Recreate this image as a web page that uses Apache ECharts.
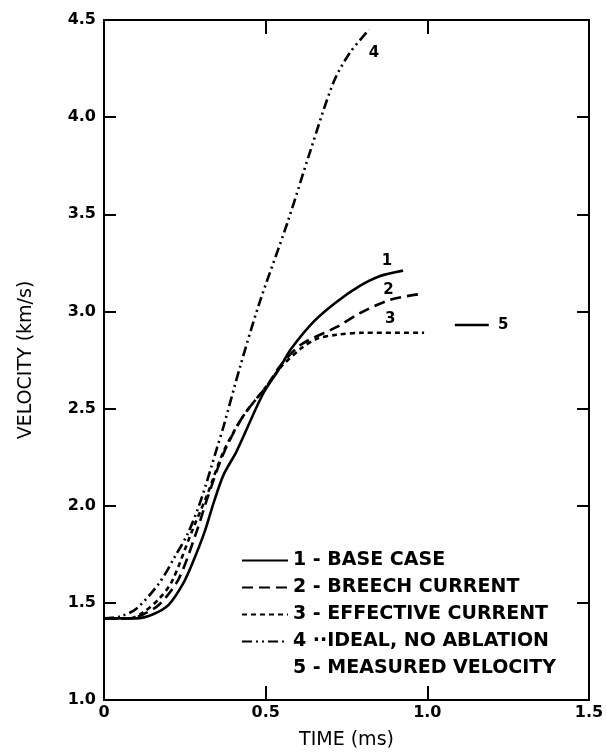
<!DOCTYPE html>
<html>
<head>
<meta charset="utf-8">
<script src="https://cdn.jsdelivr.net/npm/echarts@6/dist/echarts.min.js"></script>
<style>html,body{margin:0;padding:0;background:#fff}#c{width:607px;height:756px}</style>
</head>
<body>
<div id="c"></div>
<script>
// Curve 1 - base case
var t1 = [0, 0.05, 0.10, 0.15, 0.20, 0.245, 0.275, 0.31, 0.34, 0.37, 0.41, 0.49, 0.54, 0.58, 0.65, 0.72, 0.79, 0.85, 0.925];
var v1 = [1.42, 1.42, 1.42, 1.44, 1.49, 1.60, 1.71, 1.86, 2.02, 2.16, 2.28, 2.57, 2.70, 2.81, 2.95, 3.05, 3.13, 3.18, 3.21];
// Curve 2 - breech current
var t2 = [0, 0.08, 0.12, 0.17, 0.23, 0.285, 0.32, 0.37, 0.43, 0.505, 0.545, 0.61, 0.72, 0.79, 0.885, 0.98];
var v2 = [1.42, 1.42, 1.44, 1.49, 1.62, 1.86, 2.04, 2.27, 2.46, 2.62, 2.72, 2.83, 2.92, 2.99, 3.06, 3.09];
// Curve 3 - effective current
var t3 = [0, 0.08, 0.12, 0.17, 0.21, 0.27, 0.32, 0.37, 0.43, 0.505, 0.545, 0.61, 0.66, 0.72, 0.80, 0.99];
var v3 = [1.42, 1.42, 1.45, 1.52, 1.61, 1.86, 2.06, 2.28, 2.46, 2.62, 2.71, 2.81, 2.86, 2.88, 2.89, 2.89];
// Curve 4 - ideal, no ablation
var t4 = [0, 0.05, 0.10, 0.17, 0.22, 0.26, 0.30, 0.35, 0.37, 0.42, 0.48, 0.566, 0.637, 0.71, 0.76, 0.82];
var v4 = [1.42, 1.43, 1.47, 1.60, 1.74, 1.86, 2.03, 2.30, 2.41, 2.71, 3.04, 3.45, 3.82, 4.18, 4.33, 4.45];
// Curve 5 - measured velocity
var t5 = [1.085, 1.19];
var v5 = [2.93, 2.93];

var legendNames = ['1 - BASE CASE', '2 - BREECH CURRENT', '3 - EFFECTIVE CURRENT', '4 \u00b7\u00b7IDEAL, NO ABLATION', '5 - MEASURED VELOCITY'];
var curveTags = ['1', '2', '3', '4', '5'];
var tagT = [0.875, 0.88, 0.885, 0.835, 1.235];
var tagV = [3.26, 3.11, 2.96, 4.33, 2.93];

var xTicks = ['0', '0.5', '1.0', '1.5'];
var yTicks = ['1.0', '1.5', '2.0', '2.5', '3.0', '3.5', '4.0', '4.5'];

function pairs(t, v) { return t.map(function (x, i) { return [x, v[i]]; }); }

var FONT = 'DejaVu Sans';
var lineTypes = ['solid', [11, 6], [5, 4], [10, 4, 2, 4, 2, 4], 'solid'];
var tSets = [t1, t2, t3, t4, t5];
var vSets = [v1, v2, v3, v4, v5];
var X_MIN = 0, X_MAX = 1.5, Y_MIN = 1.0, Y_MAX = 4.5;

var series = tSets.map(function (t, i) {
  return {
    name: legendNames[i],
    type: 'line',
    data: pairs(t, vSets[i]),
    showSymbol: false,
    symbol: 'none',
    smooth: i === 4 ? false : 0.3,
    lineStyle: { color: '#000', width: 2.6, type: lineTypes[i] },
    itemStyle: { color: '#000' },
    markPoint: {
      symbol: 'circle',
      symbolSize: 1,
      itemStyle: { color: 'rgba(0,0,0,0)' },
      label: { show: true, position: 'inside', formatter: curveTags[i], color: '#000', fontFamily: FONT, fontWeight: 'bold', fontSize: 15 },
      data: [{ coord: [tagT[i], tagV[i]] }]
    },
    animation: false
  };
});

// inward ticks on the right frame edge, at the y tick values
var rightTickLen = 0.037;
series.push({
  name: 'frame-ticks',
  type: 'line',
  data: [],
  silent: true,
  markLine: {
    silent: true,
    symbol: 'none',
    label: { show: false },
    lineStyle: { color: '#000', width: 2, type: 'solid' },
    data: yTicks.slice(1, yTicks.length - 1).map(function (s) {
      var y = parseFloat(s);
      return [{ coord: [X_MAX, y] }, { coord: [X_MAX - rightTickLen, y] }];
    })
  },
  animation: false
});

var legendData = legendNames.map(function (n, i) {
  if (i === 4) return { name: n, icon: 'rect', itemStyle: { opacity: 0 }, lineStyle: { opacity: 0 } };
  return { name: n, itemStyle: { opacity: 0 } };
});

var chart = echarts.init(document.getElementById('c'), null, { renderer: 'canvas' });
chart.setOption({
  backgroundColor: '#fff',
  animation: false,
  grid: { left: 104, right: 18, top: 20, bottom: 56, containLabel: false,
    show: true, borderColor: '#000', borderWidth: 2, backgroundColor: 'transparent' },
  legend: {
    orient: 'vertical',
    left: 236,
    top: 546,
    itemWidth: 46,
    itemHeight: 14,
    itemGap: 8,
    data: legendData,
    textStyle: { color: '#000', fontFamily: FONT, fontWeight: 'bold', fontSize: 19 },
    selectedMode: false
  },
  xAxis: [{
    type: 'value', min: X_MIN, max: X_MAX, interval: 0.5, position: 'bottom',
    name: 'TIME (ms)', nameLocation: 'middle', nameGap: 31,
    nameTextStyle: { color: '#000', fontFamily: FONT, fontSize: 19 },
    axisLine: { lineStyle: { color: '#000', width: 2 } },
    axisTick: { inside: true, length: 14, lineStyle: { color: '#000', width: 2 } },
    axisLabel: { color: '#000', fontFamily: FONT, fontWeight: 'bold', fontSize: 16, margin: 5,
      formatter: function (v) { var i = Math.round(v / 0.5); return xTicks[i]; } },
    splitLine: { show: false }
  }, {
    type: 'value', min: X_MIN, max: X_MAX, interval: 0.5, position: 'top',
    axisLine: { lineStyle: { color: '#000', width: 2 } },
    axisTick: { inside: true, length: 14, lineStyle: { color: '#000', width: 2 } },
    axisLabel: { show: false }, splitLine: { show: false }
  }],
  yAxis: [{
    type: 'value', min: Y_MIN, max: Y_MAX, interval: 0.5, position: 'left',
    name: 'VELOCITY (km/s)', nameLocation: 'middle', nameGap: 68, nameRotate: 90,
    nameTextStyle: { color: '#000', fontFamily: FONT, fontSize: 19 },
    axisLine: { show: true, lineStyle: { color: '#000', width: 2 } },
    axisTick: { show: true, inside: true, length: 12, lineStyle: { color: '#000', width: 2 } },
    axisLabel: { color: '#000', fontFamily: FONT, fontWeight: 'bold', fontSize: 16, margin: 8,
      formatter: function (v) { var i = Math.round((v - 1.0) / 0.5); return yTicks[i]; } },
    splitLine: { show: false }
  }],
  series: series
});
</script>
</body>
</html>
